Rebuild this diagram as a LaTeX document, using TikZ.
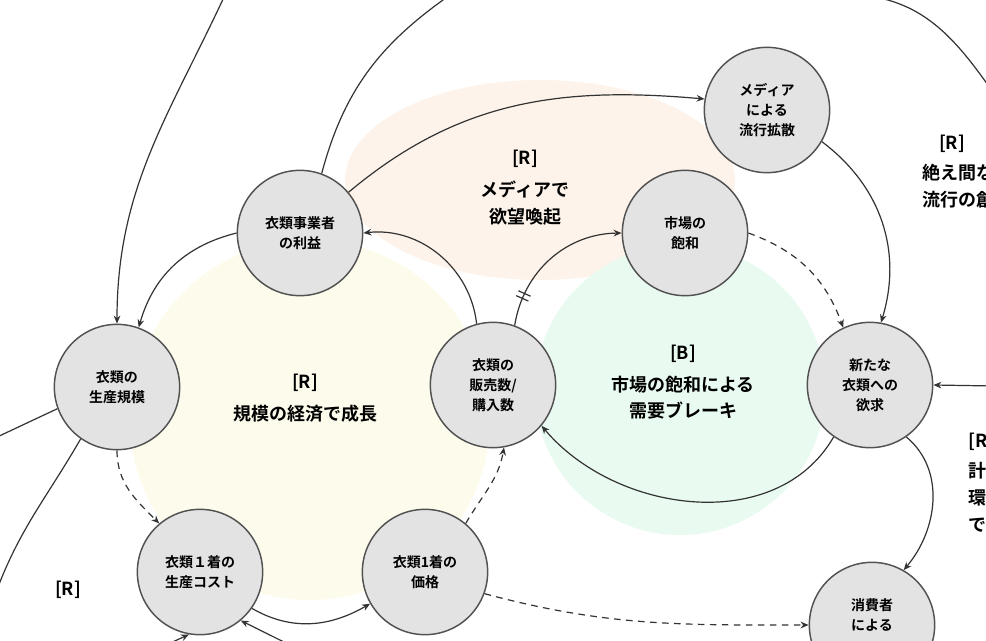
\documentclass[tikz,border=0pt]{standalone}
\usepackage{fontspec}
\setmainfont{Noto Sans CJK JP}[BoldFont={* Bold}]
\usetikzlibrary{arrows.meta,decorations.markings}
\definecolor{nodefill}{HTML}{E3E3E3}
\definecolor{edgecol}{HTML}{333333}
\definecolor{peachbg}{HTML}{FDF3EA}
\definecolor{creambg}{HTML}{FDFCEC}
\definecolor{mintbg}{HTML}{E9FAF0}
\tikzset{
  var/.style={circle, draw=edgecol!85, line width=1.1pt, fill=nodefill, minimum size=94pt,
    inner sep=0pt, align=center, font=\bfseries\fontsize{10.5}{15}\selectfont},
  wire/.style={line width=0.9pt, draw=edgecol},
  link/.style={wire, -{Stealth[length=6pt,width=5pt]}},
  delay/.style={link, dash pattern=on 5pt off 4pt},
  looplabel/.style={font=\bfseries\fontsize{13.5}{20}\selectfont, align=center},
  hash/.style={postaction={decorate, decoration={markings, mark=at position 0.2 with {
    \draw[-, line width=0.9pt] (-2pt,-5pt) -- (-2pt,5pt) (2pt,-5pt) -- (2pt,5pt);}}}}
}
\begin{document}
\begin{tikzpicture}[x=0.75pt,y=-0.75pt]
\useasboundingbox (0,0) rectangle (986,640);
\clip (0,0) rectangle (986,640);
% loop backgrounds
\fill[peachbg] (540,180) ellipse [x radius=195, y radius=100];
\fill[creambg] (310,420) circle [radius=180];
\fill[mintbg] (680,390) circle [radius=145];
% variables
\node[var] (profit) at (300,233) {衣類事業者\\の利益};
\node[var] (scale) at (117,387) {衣類の\\生産規模};
\node[var] (sales) at (493,385) {衣類の\\販売数/\\購入数};
\node[var] (satur) at (685,233) {市場の\\飽和};
\node[var] (media) at (767,110) {メディア\\による\\流行拡散};
\node[var] (desire) at (870,385) {新たな\\衣類への\\欲求};
\node[var] (cost) at (200,572) {衣類１着の\\生産コスト};
\node[var] (price) at (425,572) {衣類1着の\\価格};
\node[var] (consumer) at (872,625) {消費者\\による\\ };
% loop labels
\node[looplabel] (rmedia) at (525,188) {[R]\\[4pt]メディアで\\欲望喚起};
\node[looplabel] (rscale) at (305,398) {[R]\\[4pt]規模の経済で成長};
\node[looplabel] (bsat) at (683,382) {[B]\\[4pt]市場の飽和による\\需要ブレーキ};
\node[looplabel, anchor=north west, align=left] (rtrend) at (918,130) {\ \ \ \ [R]\\[3pt]絶え間ない\\流行の創出};
\node[looplabel, anchor=north west, align=left] (rplan) at (964,428) {[R]\\[3pt]計画的\\環境の\\で廃棄};
\node[looplabel] (rleft) at (68,590) {[R]};
% connectors
\coordinate (topA) at (225,-5);
\coordinate (topB) at (450,-5);
\coordinate (topC) at (860,-5);
\coordinate (rightA) at (995,95);
\coordinate (rightB) at (995,386);
\coordinate (leftA) at (-5,438);
\coordinate (leftB) at (-5,595);
\coordinate (botA) at (290,645);
\coordinate (botB) at (166,645);
\draw[link] (profit.180) to[bend right=30] (scale.70);
\draw[link] (sales.105) to[bend right=45] (profit.0);
\draw[link, hash] (sales.70) to[bend left=40] (satur.180);
\draw[delay] (satur.0) to[bend left=25] (desire.115);
\draw[link] (media.-30) to[bend left=35] (desire.80);
\draw[link] (profit.40) to[out=40,in=175] (media.170);
\draw[link] (topA) to[out=245,in=90] (scale.90);
\draw[wire] (profit.70) to[out=75,in=215] (topB);
\draw[wire] (topC) to[out=-5,in=125] (rightA);
\draw[link] (desire.235) to[out=240,in=-50] (sales.-40);
\draw[link] (rightB) -- (desire.0);
\draw[link] (desire.-55) to[out=-40,in=50] (consumer.60);
\draw[delay] (price.-20) to[out=-15,in=180] (consumer.180);
\draw[delay] (scale.270) to[out=270,in=135] (cost.130);
\draw[delay] (price.50) to[out=60,in=260] (sales.-80);
\draw[link] (cost.-35) to[out=-30,in=210] (price.-150);
\draw[link] (botA) -- (cost.-50);
\draw[link] (botB) -- (cost.-100);
\draw[wire] (scale.200) -- (leftA);
\draw[wire] (scale.235) to[out=240,in=70] (leftB);
\end{tikzpicture}
\end{document}
